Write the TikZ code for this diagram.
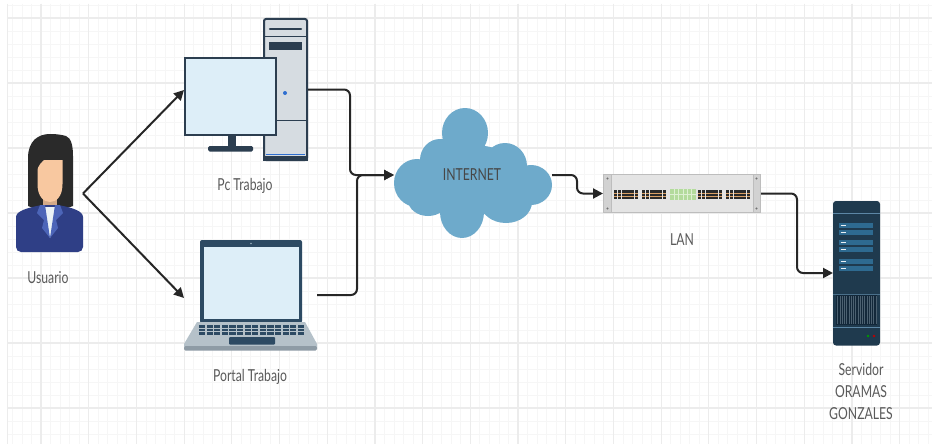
\documentclass[tikz,border=0pt]{standalone}
\usepackage{fontspec}
\setmainfont{Lato}
\usetikzlibrary{arrows.meta}
\definecolor{gridminor}{HTML}{F6F6F6}
\definecolor{gridmajor}{HTML}{ECECEC}
\definecolor{ink}{HTML}{262626}
\definecolor{lblgray}{HTML}{5A5A5A}
\definecolor{navy}{HTML}{2C3E50}
\definecolor{screen}{HTML}{DDEEF8}
\definecolor{casegray}{HTML}{D6DCE1}
\definecolor{ledblue}{HTML}{2F6FD0}
\definecolor{lapdark}{HTML}{2D4A63}
\definecolor{lapbase}{HTML}{B5C1C9}
\definecolor{lapedge}{HTML}{8E9BA5}
\definecolor{cloudblue}{HTML}{6EAACB}
\definecolor{swfill}{HTML}{E4E4E4}
\definecolor{swside}{HTML}{D2D2D2}
\definecolor{swedge}{HTML}{BDBDBD}
\definecolor{port}{HTML}{2A2A2A}
\definecolor{portorange}{HTML}{D9A066}
\definecolor{portgreen}{HTML}{B3DB9C}
\definecolor{portgreenln}{HTML}{DDF0D2}
\definecolor{srvbody}{HTML}{1F3A4E}
\definecolor{srvbay}{HTML}{2E6A90}
\definecolor{srvline}{HTML}{5C87A6}
\definecolor{srvvent}{HTML}{13283A}
\definecolor{hair}{HTML}{2A2A2A}
\definecolor{skin}{HTML}{F8C8A0}
\definecolor{jacket}{HTML}{2F3F86}
\definecolor{lapel}{HTML}{4C65B8}
\definecolor{shirt}{HTML}{EAF2F6}

% horizontally condensed label text
\newcommand\narrow[1]{\scalebox{0.74}[1]{#1}}

\tikzset{
  conn/.style={draw=ink, line width=2pt, rounded corners=6pt,
    -{Triangle[length=10pt,width=10pt]}},
  lbl/.style={text=lblgray, font=\fontsize{16.5}{22}\selectfont, inner sep=0pt},
  area/.style={inner sep=0pt, outer sep=0pt, draw=none, rectangle},
}

\begin{document}
\begin{tikzpicture}[x=1pt,y=-1pt]
\useasboundingbox (0,0) rectangle (937,444);
\fill[white] (0,0) rectangle (937,444);

% ---------- background grid ----------
\begin{scope}
  \clip (7,4) rectangle (932,444);
  \foreach \k in {-3,...,93}
    \draw[gridminor, line width=0.8pt] ({41+9.54*\k},4) -- ({41+9.54*\k},444);
  \foreach \k in {-1,...,32}
    \draw[gridminor, line width=0.8pt] (7,{18+13*\k}) -- (932,{18+13*\k});
  \foreach \k in {0,...,18}
    \draw[gridmajor, line width=1.2pt] ({41+47.7*\k},4) -- ({41+47.7*\k},444);
  \foreach \k in {0,...,6}
    \draw[gridmajor, line width=1.2pt] (7,{18+65*\k}) -- (932,{18+65*\k});
\end{scope}
\draw[gridmajor, line width=1pt] (7.5,4) -- (7.5,444);

% ---------- user ----------
\node[area, minimum width=67pt, minimum height=117pt] (user) at (49.5,193.5) {};
% hair (back)
\fill[hair] (28,206) -- (28,158) .. controls (28,141) and (38,134) .. (50,134)
  .. controls (58,134) and (62,135) .. (66,136) .. controls (71,138) and (73,145) .. (73,156)
  -- (73,206) .. controls (66,210) and (34,210) .. (28,206) -- cycle;
% neck
\fill[skin!85!black] (43,192) rectangle (57,214);
% jacket
\fill[jacket, rounded corners=5pt] (16,252) -- (16,222) .. controls (16,211) and (28,208) .. (41,205)
  -- (59,205) .. controls (72,208) and (83,211) .. (83,222) -- (83,252) -- cycle;
% shirt
\fill[shirt] (41,207) -- (59,207) -- (50,238) -- cycle;
% lapels
\fill[lapel] (40,205) -- (45,205) -- (50,238) -- (42,228) -- (44,220) -- (37,213) -- cycle;
\fill[lapel] (60,205) -- (55,205) -- (50,238) -- (58,228) -- (56,220) -- (63,213) -- cycle;
% face
\fill[skin] (37.5,160) -- (37.5,184) .. controls (37.5,197) and (44,202) .. (50,202)
  .. controls (56,202) and (62.5,197) .. (62.5,184) -- (62.5,160) -- cycle;
% bangs
\fill[hair] (36,172) .. controls (40,160) and (50,152) .. (63,160) -- (64,148) -- (36,148) -- cycle;
\node[lbl] (userlbl) at (48,278) {\narrow{Usuario}};

% ---------- desktop PC ----------
\node[area, minimum width=45pt, minimum height=143pt] (tower) at (285.5,89.5) {};
\filldraw[fill=casegray, draw=navy, line width=2pt, rounded corners=2pt] (264,19) rectangle (307,160);
\fill[navy] (263,156) rectangle (308,161);
\draw[ledblue, line width=1.5pt] (266,154.5) -- (305,154.5);
\draw[navy, line width=2.5pt, line cap=round] (270,29) -- (301,29);
\draw[navy, line width=0.8pt] (264,36) -- (307,36);
\fill[navy] (269,42) rectangle (302,50);
\fill[ledblue] (285,93) circle (2);
\draw[navy, line width=0.8pt] (264,120) -- (307,120);
% monitor
\fill[navy] (228,136) rectangle (236,147);
\fill[navy, rounded corners=1.5pt] (208,146) rectangle (253,151.5);
\filldraw[fill=screen, draw=navy, line width=2pt] (185,58) rectangle (276,135);
\node[area, minimum width=93pt, minimum height=79pt] (pc) at (230.5,96.5) {};
\coordinate (pcin) at (184,90);
\node[lbl] (pclbl) at (245,186) {\narrow{Pc Trabajo}};

% ---------- laptop ----------
\node[area, minimum width=133pt, minimum height=110pt] (laptop) at (250.5,295) {};
\fill[lapdark, rounded corners=2pt] (200,240) rectangle (302,323);
\fill[screen] (203.5,247) rectangle (298.5,319);
\fill[screen!60!lapdark] (251,243.5) circle (0.9);
\fill[lapbase] (197,322) -- (305,322) -- (317,344) -- (317,347) -- (184,347) -- (184,344) -- cycle;
\fill[lapedge, rounded corners=1.5pt] (184,346) rectangle (317,350.5);
\foreach \r in {0,1,2}
  \foreach \c in {0,...,13}
    \fill[lapdark] ({199+7.6*\c},{324.6+3.9*\r}) rectangle ++(6.2,2.9);
\fill[lapdark, rounded corners=1pt] (229,337) rectangle (275,344.5);
\coordinate (lapin) at (184,298);
\node[lbl] (laplbl) at (250,377) {\narrow{Portal Trabajo}};

% ---------- internet cloud ----------
\node[area, minimum width=158pt, minimum height=126pt] (cloud) at (473,175) {};
\fill[cloudblue]
  (465,133) ellipse (23 and 25)
  (440,160) ellipse (20 and 21)
  (417,183) ellipse (23 and 24)
  (505,166) ellipse (22 and 23)
  (531,185) ellipse (21 and 20)
  (462,212) ellipse (22 and 26)
  (506,202) ellipse (26 and 21)
  (428,200) ellipse (20 and 16)
  (472,180) ellipse (55 and 35);
\node[lbl, text=black!72] (netlbl) at (472,175) {\narrow{INTERNET}};

% ---------- LAN switch ----------
\node[area, minimum width=158pt, minimum height=39pt] (lan) at (682,193.5) {};
\filldraw[fill=swfill, draw=swedge, line width=0.8pt] (603.5,174.5) rectangle (760.5,212.5);
\fill[swside] (604,175) rectangle (611,212);
\fill[swside] (753,175) rectangle (760,212);
\draw[swedge, line width=0.6pt] (611,175) -- (611,212) (753,175) -- (753,212);
\foreach \sx in {607.5,756.5}
  \fill[black!55] (\sx,178.5) circle (1.1) (\sx,208.5) circle (1.1);
\foreach \gx in {614,642,698,726}
  \foreach \p in {0,...,5} {
    \fill[port] ({\gx+4.1*\p},189.5) rectangle ++(3.3,3);
    \fill[portorange] ({\gx+4.1*\p},192.5) rectangle ++(3.3,1.6);
    \fill[port] ({\gx+4.1*\p},194.1) rectangle ++(3.3,1.8);
    \fill[portorange] ({\gx+4.1*\p},195.9) rectangle ++(3.3,1.2);
    \fill[port] ({\gx+4.1*\p},197.1) rectangle ++(3.3,2.2);
  }
\fill[portgreen] (670,188.5) rectangle (696,199.5);
\foreach \p in {1,...,5}
  \draw[portgreenln, line width=0.5pt] ({670+4.33*\p},188.5) -- ({670+4.33*\p},199.5);
\draw[portgreenln, line width=0.5pt] (670,194) -- (696,194);
\node[lbl] (lanlbl) at (682,240) {\narrow{LAN}};

% ---------- server ----------
\node[area, minimum width=47pt, minimum height=144pt] (srv) at (856.5,273) {};
\fill[srvbody, rounded corners=3pt] (833,201) rectangle (880,345.5);
\draw[srvline, line width=0.9pt] (833,213) -- (880,213);
\foreach \by in {223,230,240,247,259,266} {
  \fill[srvbay] (839,\by) rectangle (873,{\by+5});
  \draw[white!90!srvbay, line width=1.2pt] (840.5,{\by+2.5}) -- (845.5,{\by+2.5});
}
\draw[srvline!70!srvbody, line width=0.9pt] (833,294) -- (880,294);
\fill[srvvent] (836,295) rectangle (877,325);
\foreach \vx in {0,...,17}
  \draw[srvbody!80!white, line width=0.5pt] ({837.5+2.25*\vx},296) -- ({837.5+2.25*\vx},324);
\draw[srvline, line width=0.9pt] (833,327.5) -- (880,327.5);
\fill[green!60!black] (868,336) circle (1.4);
\fill[red!75!black] (874,336) circle (1.4);
\node[lbl, align=center] (srvlbl) at (861,393)
  {\narrow{\begin{tabular}{@{}c@{}}Servidor\\ORAMAS\\GONZALES\end{tabular}}};

% ---------- connectors ----------
\draw[conn] (user.east) -- (pcin);
\draw[conn] (user.east) -- (lapin);
\draw[conn] (tower.east) -- ++(42,0) |- (cloud.west);
\draw[conn] (laptop.east) -- ++(40,0) |- (cloud.west);
\draw[conn] (cloud.east) -- ++(25,0) |- (lan.west);
\draw[conn] (lan.east) -- ++(36,0) |- (srv.west);
\end{tikzpicture}
\end{document}
